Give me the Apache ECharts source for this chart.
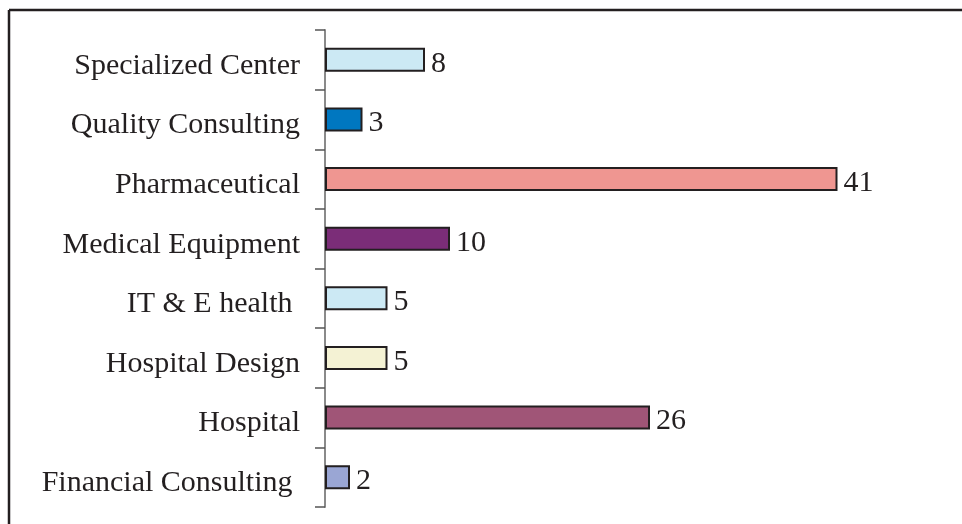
<!DOCTYPE html>
<html>
<head>
<meta charset="utf-8">
<script src="https://cdn.jsdelivr.net/npm/echarts@6/dist/echarts.min.js"></script>
<style>
html,body{margin:0;padding:0;background:#fff;}
#chart{width:962px;height:524px;}
</style>
</head>
<body>
<div id="chart"></div>
<script>
const categories = ['Financial Consulting ', 'Hospital', 'Hospital Design', 'IT & E health ', 'Medical Equipment', 'Pharmaceutical', 'Quality Consulting', 'Specialized Center'];
const values = [2, 26, 5, 5, 10, 41, 3, 8];
const barColors = ['#9aa6d4', '#a05577', '#f4f2d4', '#cce9f4', '#7b2d78', '#ef9691', '#0077c0', '#cce9f4'];

const chart = echarts.init(document.getElementById('chart'));
const font = "'Liberation Serif', 'DejaVu Serif', serif";
chart.setOption({
  animation: false,
  backgroundColor: '#ffffff',
  grid: { left: 325, right: 12, top: 30, bottom: 17, containLabel: false },
  xAxis: { type: 'value', min: 0, max: 50, show: false },
  yAxis: {
    type: 'category',
    data: categories,
    axisLine: { show: true, lineStyle: { color: '#8a8a8a', width: 2 } },
    axisTick: { show: true, length: 10, lineStyle: { color: '#555', width: 1.5 } },
    axisLabel: {
      margin: 25,
      formatter: v => '{a|' + v + '}',
      rich: { a: { fontFamily: font, fontSize: 30, color: '#231f20', padding: [12, 0, 0, 0] } }
    },
    splitLine: { show: false }
  },
  series: [{
    type: 'bar',
    barWidth: 24,
    data: values.map((v, i) => ({ value: v, itemStyle: { color: barColors[i] } })),
    itemStyle: { borderColor: '#231f20', borderWidth: 2 },
    label: { show: true, position: 'right', distance: 6, offset: [0, 4], fontFamily: font, fontSize: 30, color: '#231f20' }
  }],
  graphic: [
    { type: 'line', shape: { x1: 9, y1: 10, x2: 962, y2: 10 }, style: { stroke: '#231f20', lineWidth: 2.5 } },
    { type: 'line', shape: { x1: 9, y1: 10, x2: 9, y2: 524 }, style: { stroke: '#231f20', lineWidth: 2.5 } }
  ]
});
</script>
</body>
</html>
